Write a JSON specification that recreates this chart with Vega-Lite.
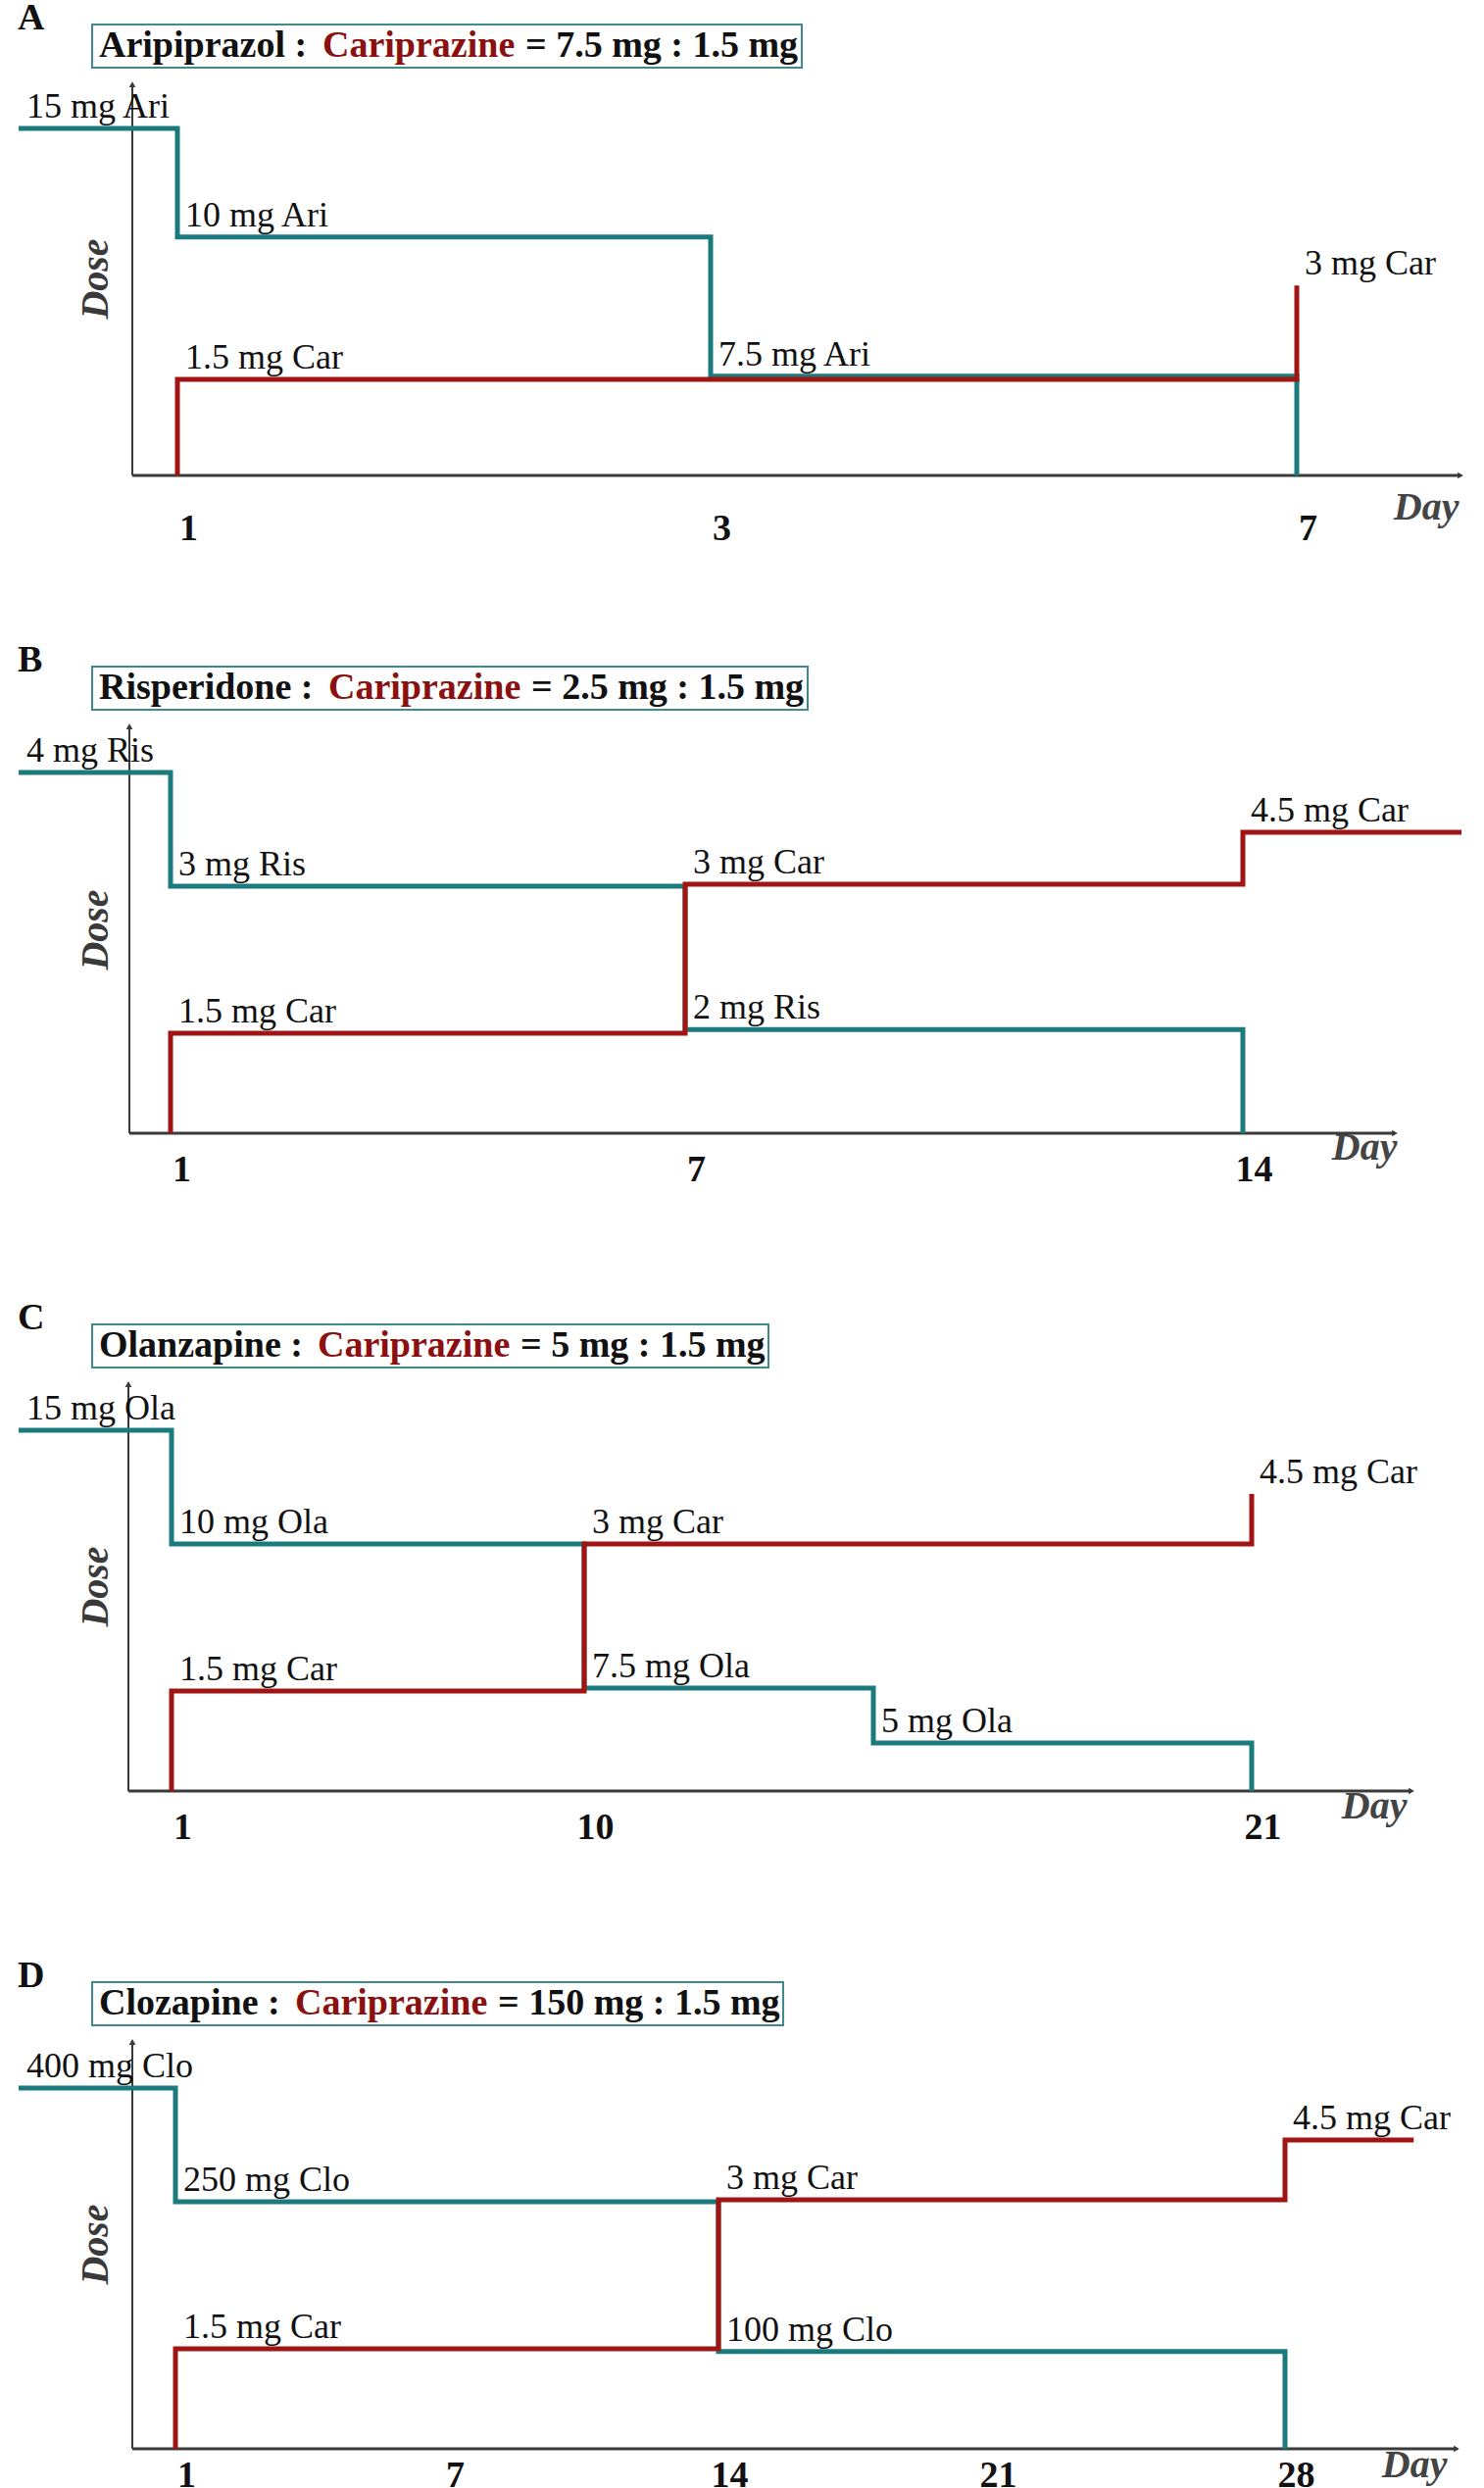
{
  "$schema": "https://vega.github.io/schema/vega-lite/v6.json",
  "padding": 0,
  "autosize": {"type": "pad"},
  "background": "white",
  "config": {
    "view": {"stroke": null},
    "axis": {"grid": false},
    "font": "Liberation Serif"
  },
  "data": {
    "values": [
      {"panel": "A", "drug": "Aripiprazol", "seq": 1, "day": -3, "level": 85.3, "label": "15 mg Ari"},
      {"panel": "A", "drug": "Aripiprazol", "seq": 2, "day": 1, "level": 58.6, "label": "10 mg Ari"},
      {"panel": "A", "drug": "Aripiprazol", "seq": 3, "day": 3, "level": 24.4, "label": "7.5 mg Ari"},
      {"panel": "A", "drug": "Aripiprazol", "seq": 4, "day": 7, "level": 0, "label": ""},
      {"panel": "A", "drug": "Cariprazine", "seq": 1, "day": 1, "level": 0, "label": ""},
      {"panel": "A", "drug": "Cariprazine", "seq": 2, "day": 1, "level": 23.6, "label": "1.5 mg Car"},
      {"panel": "A", "drug": "Cariprazine", "seq": 3, "day": 7, "level": 46.7, "label": "3 mg Car"},

      {"panel": "B", "drug": "Risperidone", "seq": 1, "day": -3, "level": 88.7, "label": "4 mg Ris"},
      {"panel": "B", "drug": "Risperidone", "seq": 2, "day": 1, "level": 60.7, "label": "3 mg Ris"},
      {"panel": "B", "drug": "Risperidone", "seq": 3, "day": 7, "level": 25.5, "label": "2 mg Ris"},
      {"panel": "B", "drug": "Risperidone", "seq": 4, "day": 14, "level": 0, "label": ""},
      {"panel": "B", "drug": "Cariprazine", "seq": 1, "day": 1, "level": 0, "label": ""},
      {"panel": "B", "drug": "Cariprazine", "seq": 2, "day": 1, "level": 24.6, "label": "1.5 mg Car"},
      {"panel": "B", "drug": "Cariprazine", "seq": 3, "day": 7, "level": 61.2, "label": "3 mg Car"},
      {"panel": "B", "drug": "Cariprazine", "seq": 4, "day": 14, "level": 74.0, "label": "4.5 mg Car"},
      {"panel": "B", "drug": "Cariprazine", "seq": 5, "day": 16, "level": 74.0, "label": ""},

      {"panel": "C", "drug": "Olanzapine", "seq": 1, "day": -3, "level": 88.7, "label": "15 mg Ola"},
      {"panel": "C", "drug": "Olanzapine", "seq": 2, "day": 1, "level": 60.7, "label": "10 mg Ola"},
      {"panel": "C", "drug": "Olanzapine", "seq": 3, "day": 10, "level": 25.3, "label": "7.5 mg Ola"},
      {"panel": "C", "drug": "Olanzapine", "seq": 4, "day": 15, "level": 11.8, "label": "5 mg Ola"},
      {"panel": "C", "drug": "Olanzapine", "seq": 5, "day": 21, "level": 0, "label": ""},
      {"panel": "C", "drug": "Cariprazine", "seq": 1, "day": 1, "level": 0, "label": ""},
      {"panel": "C", "drug": "Cariprazine", "seq": 2, "day": 1, "level": 24.6, "label": "1.5 mg Car"},
      {"panel": "C", "drug": "Cariprazine", "seq": 3, "day": 10, "level": 60.7, "label": "3 mg Car"},
      {"panel": "C", "drug": "Cariprazine", "seq": 4, "day": 21, "level": 73.0, "label": "4.5 mg Car"},

      {"panel": "D", "drug": "Clozapine", "seq": 1, "day": -3, "level": 88.7, "label": "400 mg Clo"},
      {"panel": "D", "drug": "Clozapine", "seq": 2, "day": 1, "level": 60.7, "label": "250 mg Clo"},
      {"panel": "D", "drug": "Clozapine", "seq": 3, "day": 14, "level": 23.9, "label": "100 mg Clo"},
      {"panel": "D", "drug": "Clozapine", "seq": 4, "day": 28, "level": 0, "label": ""},
      {"panel": "D", "drug": "Cariprazine", "seq": 1, "day": 1, "level": 0, "label": ""},
      {"panel": "D", "drug": "Cariprazine", "seq": 2, "day": 1, "level": 24.6, "label": "1.5 mg Car"},
      {"panel": "D", "drug": "Cariprazine", "seq": 3, "day": 14, "level": 61.2, "label": "3 mg Car"},
      {"panel": "D", "drug": "Cariprazine", "seq": 4, "day": 28, "level": 75.9, "label": "4.5 mg Car"},
      {"panel": "D", "drug": "Cariprazine", "seq": 5, "day": 31, "level": 75.9, "label": ""}
    ]
  },
  "bounds": "flush",
  "spacing": 256,
  "resolve": {
    "scale": {"x": "independent", "y": "independent", "color": "independent"},
    "axis": {"x": "independent", "y": "independent"},
    "legend": {"color": "independent"}
  },
  "vconcat": [
    {
      "width": 1514, "height": 415,
      "title": {"text": "A", "anchor": "start", "frame": "group", "offset": -7, "dy": 37, "baseline": "alphabetic", "dx": 18, "font": "Liberation Serif", "fontSize": 38, "fontWeight": "bold", "color": "#111111"},
      "layer": [
        {"data": {"values": [{}]}, "mark": {"type": "rule", "color": "#3a3a3a", "strokeWidth": 2}, "encoding": {"x": {"datum": 0}, "y": {"datum": 0}, "y2": {"datum": 96.1}}},
        {"data": {"values": [{}]}, "mark": {"type": "rule", "color": "#3a3a3a", "strokeWidth": 3}, "encoding": {"x": {"datum": 0}, "x2": {"datum": 8}, "y": {"datum": 0}}},
        {"data": {"values": [{}]}, "mark": {"type": "point", "shape": "triangle-up", "filled": true, "size": 45, "color": "#3a3a3a", "opacity": 1}, "encoding": {"x": {"datum": 0}, "y": {"datum": 96.1}}},
        {"data": {"values": [{}]}, "mark": {"type": "point", "shape": "triangle-right", "filled": true, "size": 45, "color": "#3a3a3a", "opacity": 1}, "encoding": {"x": {"datum": 8}, "y": {"datum": 0}}},
        {
          "transform": [{"filter": "datum.panel == 'A'"}],
          "mark": {"type": "line", "interpolate": "step-after", "strokeWidth": 5},
          "encoding": {
            "x": {"field": "day", "type": "quantitative",
              "scale": {"domain": [-3, 0, 1, 3, 7, 8], "range": [19, 135, 181, 725, 1323, 1490], "nice": false, "zero": false},
              "axis": {"title": "Day", "values": [1, 3, 7], "format": "d", "domain": false, "ticks": false, "grid": false,
                "labelFont": "Liberation Serif", "labelFontWeight": "bold", "labelFontSize": 38, "labelColor": "#111111", "labelPadding": 35, "labelOffset": 11,
                "titleFont": "Liberation Serif", "titleFontStyle": "italic", "titleFontWeight": "bold", "titleFontSize": 40, "titleColor": "#444444",
                "titleX": 1488, "titleY": 44, "titleAlign": "right", "titleBaseline": "alphabetic", "titleAnchor": null}},
            "y": {"field": "level", "type": "quantitative",
              "scale": {"domain": [0, 100], "nice": false, "zero": true},
              "axis": {"title": "Dose", "domain": false, "ticks": false, "labels": false, "grid": false,
                "titleFont": "Liberation Serif", "titleFontStyle": "italic", "titleFontWeight": "bold", "titleFontSize": 40, "titleColor": "#3a3a3a",
                "titleX": 97, "titleY": 214, "titleAngle": -90, "titleBaseline": "middle", "titleAlign": "center"}},
            "color": {"field": "drug", "type": "nominal",
              "scale": {"domain": ["Aripiprazol", "Cariprazine"], "range": ["#1b7b7c", "#a01414"]},
              "legend": {"orient": "none", "legendX": 94, "legendY": -45, "direction": "horizontal", "gridAlign": "none",
                "title": "= 7.5 mg : 1.5 mg", "titleOrient": "right", "titleFont": "Liberation Serif", "titleFontSize": 38, "titleFontWeight": "bold", "titleColor": "#111111", "titleLimit": 1000, "titlePadding": 11, "titleBaseline": "middle", "titleAnchor": "middle",
                "labelFont": "Liberation Serif", "labelFontSize": 38, "labelFontWeight": "bold", "labelLimit": 1000, "labelOffset": -34, "columnPadding": 11,
                "symbolSize": 0, "symbolOpacity": 0, "symbolStrokeWidth": 0,
                "strokeColor": "#3f8a8a", "fillColor": "white", "padding": 3,
                "labelExpr": "datum.label == 'Cariprazine' ? datum.label : datum.label + ' :'",
                "encode": {"labels": {"update": {"fill": {"signal": "datum.value == 'Cariprazine' ? '#8b1111' : '#111111'"}}}, "legend": {"update": {"strokeWidth": {"value": 2}}}}}},
            "order": {"field": "seq", "type": "quantitative"}
          }
        },
        {
          "transform": [{"filter": "datum.panel == 'A' && datum.label != ''"}],
          "mark": {"type": "text", "align": "left", "baseline": "alphabetic", "dx": 8, "dy": -11, "font": "Liberation Serif", "fontSize": 36, "color": "#111111"},
          "encoding": {"x": {"field": "day", "type": "quantitative"}, "y": {"field": "level", "type": "quantitative"}, "text": {"field": "label"}}
        }
      ]
    },
    {
      "width": 1514, "height": 415,
      "title": {"text": "B", "anchor": "start", "frame": "group", "offset": -7, "dy": 37, "baseline": "alphabetic", "dx": 18, "font": "Liberation Serif", "fontSize": 38, "fontWeight": "bold", "color": "#111111"},
      "layer": [
        {"data": {"values": [{}]}, "mark": {"type": "rule", "color": "#3a3a3a", "strokeWidth": 2}, "encoding": {"x": {"datum": 0}, "y": {"datum": 0}, "y2": {"datum": 100}}},
        {"data": {"values": [{}]}, "mark": {"type": "rule", "color": "#3a3a3a", "strokeWidth": 3}, "encoding": {"x": {"datum": 0}, "x2": {"datum": 15}, "y": {"datum": 0}}},
        {"data": {"values": [{}]}, "mark": {"type": "point", "shape": "triangle-up", "filled": true, "size": 45, "color": "#3a3a3a", "opacity": 1}, "encoding": {"x": {"datum": 0}, "y": {"datum": 100}}},
        {"data": {"values": [{}]}, "mark": {"type": "point", "shape": "triangle-right", "filled": true, "size": 45, "color": "#3a3a3a", "opacity": 1}, "encoding": {"x": {"datum": 15}, "y": {"datum": 0}}},
        {
          "transform": [{"filter": "datum.panel == 'B'"}],
          "mark": {"type": "line", "interpolate": "step-after", "strokeWidth": 5},
          "encoding": {
            "x": {"field": "day", "type": "quantitative",
              "scale": {"domain": [-3, 0, 1, 7, 14, 15, 16], "range": [19, 132, 174, 699, 1268, 1423, 1491], "nice": false, "zero": false},
              "axis": {"title": "Day", "values": [1, 7, 14], "format": "d", "domain": false, "ticks": false, "grid": false,
                "labelFont": "Liberation Serif", "labelFontWeight": "bold", "labelFontSize": 38, "labelColor": "#111111", "labelPadding": 18, "labelOffset": 11,
                "titleFont": "Liberation Serif", "titleFontStyle": "italic", "titleFontWeight": "bold", "titleFontSize": 40, "titleColor": "#444444",
                "titleX": 1425, "titleY": 26, "titleAlign": "right", "titleBaseline": "alphabetic", "titleAnchor": null}},
            "y": {"field": "level", "type": "quantitative",
              "scale": {"domain": [0, 100], "nice": false, "zero": true},
              "axis": {"title": "Dose", "domain": false, "ticks": false, "labels": false, "grid": false,
                "titleFont": "Liberation Serif", "titleFontStyle": "italic", "titleFontWeight": "bold", "titleFontSize": 40, "titleColor": "#3a3a3a",
                "titleX": 97, "titleY": 207, "titleAngle": -90, "titleBaseline": "middle", "titleAlign": "center"}},
            "color": {"field": "drug", "type": "nominal",
              "scale": {"domain": ["Risperidone", "Cariprazine"], "range": ["#1b7b7c", "#a01414"]},
              "legend": {"orient": "none", "legendX": 94, "legendY": -61, "direction": "horizontal", "gridAlign": "none",
                "title": "= 2.5 mg : 1.5 mg", "titleOrient": "right", "titleFont": "Liberation Serif", "titleFontSize": 38, "titleFontWeight": "bold", "titleColor": "#111111", "titleLimit": 1000, "titlePadding": 11, "titleBaseline": "middle", "titleAnchor": "middle",
                "labelFont": "Liberation Serif", "labelFontSize": 38, "labelFontWeight": "bold", "labelLimit": 1000, "labelOffset": -34, "columnPadding": 11,
                "symbolSize": 0, "symbolOpacity": 0, "symbolStrokeWidth": 0,
                "strokeColor": "#3f8a8a", "fillColor": "white", "padding": 3,
                "labelExpr": "datum.label == 'Cariprazine' ? datum.label : datum.label + ' :'",
                "encode": {"labels": {"update": {"fill": {"signal": "datum.value == 'Cariprazine' ? '#8b1111' : '#111111'"}}}, "legend": {"update": {"strokeWidth": {"value": 2}}}}}},
            "order": {"field": "seq", "type": "quantitative"}
          }
        },
        {
          "transform": [{"filter": "datum.panel == 'B' && datum.label != ''"}],
          "mark": {"type": "text", "align": "left", "baseline": "alphabetic", "dx": 8, "dy": -11, "font": "Liberation Serif", "fontSize": 36, "color": "#111111"},
          "encoding": {"x": {"field": "day", "type": "quantitative"}, "y": {"field": "level", "type": "quantitative"}, "text": {"field": "label"}}
        }
      ]
    },
    {
      "width": 1514, "height": 415,
      "title": {"text": "C", "anchor": "start", "frame": "group", "offset": -7, "dy": 37, "baseline": "alphabetic", "dx": 18, "font": "Liberation Serif", "fontSize": 38, "fontWeight": "bold", "color": "#111111"},
      "layer": [
        {"data": {"values": [{}]}, "mark": {"type": "rule", "color": "#3a3a3a", "strokeWidth": 2}, "encoding": {"x": {"datum": 0}, "y": {"datum": 0}, "y2": {"datum": 100}}},
        {"data": {"values": [{}]}, "mark": {"type": "rule", "color": "#3a3a3a", "strokeWidth": 3}, "encoding": {"x": {"datum": 0}, "x2": {"datum": 22}, "y": {"datum": 0}}},
        {"data": {"values": [{}]}, "mark": {"type": "point", "shape": "triangle-up", "filled": true, "size": 45, "color": "#3a3a3a", "opacity": 1}, "encoding": {"x": {"datum": 0}, "y": {"datum": 100}}},
        {"data": {"values": [{}]}, "mark": {"type": "point", "shape": "triangle-right", "filled": true, "size": 45, "color": "#3a3a3a", "opacity": 1}, "encoding": {"x": {"datum": 22}, "y": {"datum": 0}}},
        {
          "transform": [{"filter": "datum.panel == 'C'"}],
          "mark": {"type": "line", "interpolate": "step-after", "strokeWidth": 5},
          "encoding": {
            "x": {"field": "day", "type": "quantitative",
              "scale": {"domain": [-3, 0, 1, 10, 15, 21, 22], "range": [19, 131, 175, 596, 891, 1277, 1440], "nice": false, "zero": false},
              "axis": {"title": "Day", "values": [1, 10, 21], "format": "d", "domain": false, "ticks": false, "grid": false,
                "labelFont": "Liberation Serif", "labelFontWeight": "bold", "labelFontSize": 38, "labelColor": "#111111", "labelPadding": 18, "labelOffset": 11,
                "titleFont": "Liberation Serif", "titleFontStyle": "italic", "titleFontWeight": "bold", "titleFontSize": 40, "titleColor": "#444444",
                "titleX": 1435, "titleY": 27, "titleAlign": "right", "titleBaseline": "alphabetic", "titleAnchor": null}},
            "y": {"field": "level", "type": "quantitative",
              "scale": {"domain": [0, 100], "nice": false, "zero": true},
              "axis": {"title": "Dose", "domain": false, "ticks": false, "labels": false, "grid": false,
                "titleFont": "Liberation Serif", "titleFontStyle": "italic", "titleFontWeight": "bold", "titleFontSize": 40, "titleColor": "#3a3a3a",
                "titleX": 97, "titleY": 206, "titleAngle": -90, "titleBaseline": "middle", "titleAlign": "center"}},
            "color": {"field": "drug", "type": "nominal",
              "scale": {"domain": ["Olanzapine", "Cariprazine"], "range": ["#1b7b7c", "#a01414"]},
              "legend": {"orient": "none", "legendX": 94, "legendY": -61, "direction": "horizontal", "gridAlign": "none",
                "title": "= 5 mg : 1.5 mg", "titleOrient": "right", "titleFont": "Liberation Serif", "titleFontSize": 38, "titleFontWeight": "bold", "titleColor": "#111111", "titleLimit": 1000, "titlePadding": 11, "titleBaseline": "middle", "titleAnchor": "middle",
                "labelFont": "Liberation Serif", "labelFontSize": 38, "labelFontWeight": "bold", "labelLimit": 1000, "labelOffset": -34, "columnPadding": 11,
                "symbolSize": 0, "symbolOpacity": 0, "symbolStrokeWidth": 0,
                "strokeColor": "#3f8a8a", "fillColor": "white", "padding": 3,
                "labelExpr": "datum.label == 'Cariprazine' ? datum.label : datum.label + ' :'",
                "encode": {"labels": {"update": {"fill": {"signal": "datum.value == 'Cariprazine' ? '#8b1111' : '#111111'"}}}, "legend": {"update": {"strokeWidth": {"value": 2}}}}}},
            "order": {"field": "seq", "type": "quantitative"}
          }
        },
        {
          "transform": [{"filter": "datum.panel == 'C' && datum.label != ''"}],
          "mark": {"type": "text", "align": "left", "baseline": "alphabetic", "dx": 8, "dy": -11, "font": "Liberation Serif", "fontSize": 36, "color": "#111111"},
          "encoding": {"x": {"field": "day", "type": "quantitative"}, "y": {"field": "level", "type": "quantitative"}, "text": {"field": "label"}}
        }
      ]
    },
    {
      "width": 1514, "height": 415,
      "title": {"text": "D", "anchor": "start", "frame": "group", "offset": -7, "dy": 37, "baseline": "alphabetic", "dx": 18, "font": "Liberation Serif", "fontSize": 38, "fontWeight": "bold", "color": "#111111"},
      "layer": [
        {"data": {"values": [{}]}, "mark": {"type": "rule", "color": "#3a3a3a", "strokeWidth": 2}, "encoding": {"x": {"datum": 0}, "y": {"datum": 0}, "y2": {"datum": 100}}},
        {"data": {"values": [{}]}, "mark": {"type": "rule", "color": "#3a3a3a", "strokeWidth": 3}, "encoding": {"x": {"datum": 0}, "x2": {"datum": 32}, "y": {"datum": 0}}},
        {"data": {"values": [{}]}, "mark": {"type": "point", "shape": "triangle-up", "filled": true, "size": 45, "color": "#3a3a3a", "opacity": 1}, "encoding": {"x": {"datum": 0}, "y": {"datum": 100}}},
        {"data": {"values": [{}]}, "mark": {"type": "point", "shape": "triangle-right", "filled": true, "size": 45, "color": "#3a3a3a", "opacity": 1}, "encoding": {"x": {"datum": 32}, "y": {"datum": 0}}},
        {
          "transform": [{"filter": "datum.panel == 'D'"}],
          "mark": {"type": "line", "interpolate": "step-after", "strokeWidth": 5},
          "encoding": {
            "x": {"field": "day", "type": "quantitative",
              "scale": {"domain": [-3, 0, 1, 7, 14, 21, 28, 32], "range": [19, 135, 179, 453, 733, 1007, 1311, 1486], "nice": false, "zero": false},
              "axis": {"title": "Day", "values": [1, 7, 14, 21, 28], "format": "d", "domain": false, "ticks": false, "grid": false,
                "labelFont": "Liberation Serif", "labelFontWeight": "bold", "labelFontSize": 38, "labelColor": "#111111", "labelPadding": 8, "labelOffset": 11,
                "titleFont": "Liberation Serif", "titleFontStyle": "italic", "titleFontWeight": "bold", "titleFontSize": 40, "titleColor": "#444444",
                "titleX": 1476, "titleY": 28, "titleAlign": "right", "titleBaseline": "alphabetic", "titleAnchor": null}},
            "y": {"field": "level", "type": "quantitative",
              "scale": {"domain": [0, 100], "nice": false, "zero": true},
              "axis": {"title": "Dose", "domain": false, "ticks": false, "labels": false, "grid": false,
                "titleFont": "Liberation Serif", "titleFontStyle": "italic", "titleFontWeight": "bold", "titleFontSize": 40, "titleColor": "#3a3a3a",
                "titleX": 97, "titleY": 206, "titleAngle": -90, "titleBaseline": "middle", "titleAlign": "center"}},
            "color": {"field": "drug", "type": "nominal",
              "scale": {"domain": ["Clozapine", "Cariprazine"], "range": ["#1b7b7c", "#a01414"]},
              "legend": {"orient": "none", "legendX": 94, "legendY": -61, "direction": "horizontal", "gridAlign": "none",
                "title": "= 150 mg : 1.5 mg", "titleOrient": "right", "titleFont": "Liberation Serif", "titleFontSize": 38, "titleFontWeight": "bold", "titleColor": "#111111", "titleLimit": 1000, "titlePadding": 11, "titleBaseline": "middle", "titleAnchor": "middle",
                "labelFont": "Liberation Serif", "labelFontSize": 38, "labelFontWeight": "bold", "labelLimit": 1000, "labelOffset": -34, "columnPadding": 11,
                "symbolSize": 0, "symbolOpacity": 0, "symbolStrokeWidth": 0,
                "strokeColor": "#3f8a8a", "fillColor": "white", "padding": 3,
                "labelExpr": "datum.label == 'Cariprazine' ? datum.label : datum.label + ' :'",
                "encode": {"labels": {"update": {"fill": {"signal": "datum.value == 'Cariprazine' ? '#8b1111' : '#111111'"}}}, "legend": {"update": {"strokeWidth": {"value": 2}}}}}},
            "order": {"field": "seq", "type": "quantitative"}
          }
        },
        {
          "transform": [{"filter": "datum.panel == 'D' && datum.label != ''"}],
          "mark": {"type": "text", "align": "left", "baseline": "alphabetic", "dx": 8, "dy": -11, "font": "Liberation Serif", "fontSize": 36, "color": "#111111"},
          "encoding": {"x": {"field": "day", "type": "quantitative"}, "y": {"field": "level", "type": "quantitative"}, "text": {"field": "label"}}
        }
      ]
    }
  ]
}
